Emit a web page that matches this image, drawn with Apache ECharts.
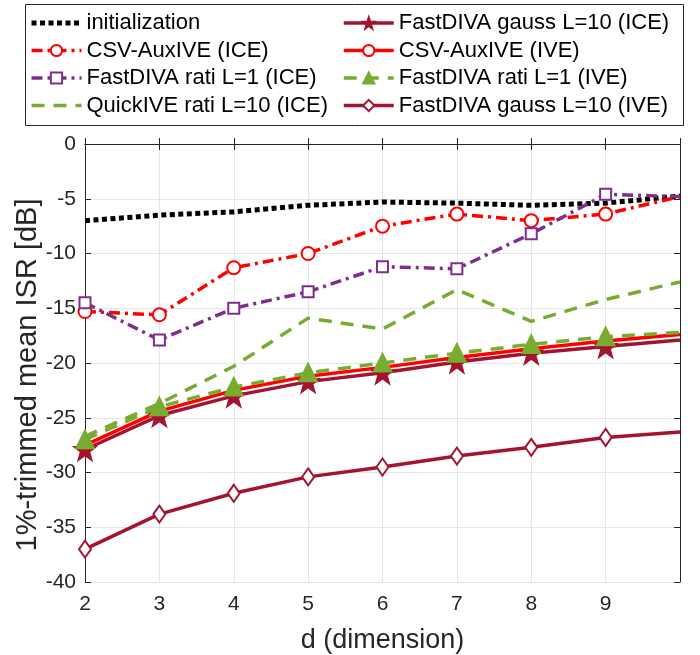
<!DOCTYPE html>
<html>
<head>
<meta charset="utf-8">
<script src="https://cdn.jsdelivr.net/npm/echarts@6/dist/echarts.min.js"></script>
<style>
  html, body { margin: 0; padding: 0; background: #fff; }
  #main { width: 700px; height: 655px; }
</style>
</head>
<body>
<div id="main"></div>
<script>
// d (dimension)
var dims = [2, 3, 4, 5, 6, 7, 8, 9, 10];

var initialization = [-7.0, -6.5, -6.2, -5.6, -5.3, -5.4, -5.6, -5.4, -4.75];
var csvIce        = [-15.3, -15.6, -11.3, -10.0, -7.5, -6.4, -7.0, -6.4, -4.8];
var ratiL1Ice     = [-14.5, -17.9, -15.0, -13.5, -11.2, -11.4, -8.2, -4.6, -4.8];
var quickL10Ice   = [-26.7, -23.7, -20.3, -15.9, -16.9, -13.3, -16.2, -14.2, -12.6];
var gaussL10Ice   = [-27.9, -24.8, -23.0, -21.7, -20.9, -19.9, -19.1, -18.5, -17.9];
var csvIve        = [-27.5, -24.4, -22.5, -21.2, -20.4, -19.5, -18.7, -18.0, -17.4];
var ratiL1Ive     = [-27.0, -24.0, -22.2, -20.9, -20.0, -19.1, -18.3, -17.6, -17.2];
var gaussL10Ive   = [-37.0, -33.8, -31.9, -30.4, -29.5, -28.5, -27.7, -26.8, -26.3];

var names = [
    'initialization',
    'CSV-AuxIVE (ICE)',
    'FastDIVA rati L=1 (ICE)',
    'QuickIVE rati L=10 (ICE)',
    'FastDIVA gauss L=10 (ICE)',
    'CSV-AuxIVE (IVE)',
    'FastDIVA rati L=1 (IVE)',
    'FastDIVA gauss L=10 (IVE)'
];
var noMarker = ['initialization', 'QuickIVE rati L=10 (ICE)'];

var starPath = 'path://M0,-10L2.35,-3.24L9.51,-3.09L3.8,1.24L5.88,8.09L0,4L-5.88,8.09L-3.8,1.24L-9.51,-3.09L-2.35,-3.24Z';

function pairs(ys) {
    return ys.map(function (y, i) { return [dims[i], y]; });
}

// no marker on the last point (x = 10, the axis edge)
function sized(s) {
    return function (val, params) {
        return params.dataIndex === dims.length - 1 ? 0 : s;
    };
}

function line(name, ys, color, dash, width, symbol, size, z) {
    return {
        name: name,
        type: 'line',
        data: pairs(ys),
        symbol: symbol,
        symbolSize: symbol === 'none' ? 0 : sized(size),
        showAllSymbol: true,
        clip: false,
        z: z,
        lineStyle: { color: color, width: width, type: dash, cap: 'butt' },
        itemStyle: { color: color, borderColor: color, borderWidth: 3 },
        emphasis: { disabled: true },
        animation: false
    };
}

function legendItems(list) {
    return list.map(function (n) {
        return noMarker.indexOf(n) >= 0 ? { name: n, itemStyle: { opacity: 0 } } : { name: n };
    });
}

var chart = echarts.init(document.getElementById('main'));

var series = [
    line(names[0], initialization, '#000000', [5, 3.5], 5, 'none', 0, 2),
    line(names[1], csvIce, '#ff0000', [11, 5, 3, 5], 3.5, 'emptyCircle', 13, 3),
    line(names[2], ratiL1Ice, '#7e2f8e', [11, 5, 3, 5], 3.5, 'emptyRect', 11, 3),
    line(names[3], quickL10Ice, '#77ac30', [13, 9], 3.5, 'none', 0, 2),
    line(names[4], gaussL10Ice, '#a2142f', 'solid', 3.5, starPath, 18, 3),
    line(names[5], csvIve, '#ff0000', 'solid', 3.5, 'emptyCircle', 9, 4),
    line(names[6], ratiL1Ive, '#77ac30', [13, 9], 3.5, 'triangle', 16, 5),
    line(names[7], gaussL10Ive, '#a2142f', 'solid', 3.5, 'emptyDiamond', [12, 17], 3)
];

var legendText = { fontFamily: 'Liberation Sans, Arial, sans-serif', fontSize: 22, color: '#000', lineHeight: 22 };

var option = {
    backgroundColor: '#ffffff',
    animation: false,
    textStyle: { fontFamily: 'Liberation Sans, Arial, sans-serif' },
    grid: { left: 85, right: 20, top: 144, bottom: 73, containLabel: false, outerBoundsMode: 'none' },
    graphic: [{
        type: 'rect',
        shape: { x: 25.5, y: 4.5, width: 658, height: 121 },
        style: { fill: '#fff', stroke: '#262626', lineWidth: 1 },
        z: 0
    }],
    legend: [{
        data: legendItems(names.slice(0, 4)),
        orient: 'vertical',
        left: 29,
        top: 12,
        padding: 0,
        itemWidth: 50,
        itemHeight: 14,
        itemGap: 5.5,
        lineStyle: { width: 'inherit' },
        textStyle: legendText,
        selectedMode: false
    }, {
        data: legendItems(names.slice(4)),
        orient: 'vertical',
        left: 342,
        top: 12,
        padding: 0,
        itemWidth: 50,
        itemHeight: 14,
        itemGap: 5.5,
        lineStyle: { width: 'inherit' },
        textStyle: legendText,
        selectedMode: false
    }],
    xAxis: [{
        type: 'value',
        min: 2,
        max: 10,
        interval: 1,
        name: 'd (dimension)',
        nameLocation: 'middle',
        nameGap: 45,
        nameMoveOverlap: false,
        nameTextStyle: { fontSize: 27, color: '#262626' },
        axisLine: { show: true, lineStyle: { color: '#262626', width: 1 } },
        axisTick: { show: true, inside: true, length: 6, lineStyle: { color: '#262626' } },
        axisLabel: {
            fontSize: 21, color: '#262626', margin: 12,
            formatter: function (v) { return v === 10 ? '' : String(v); }
        },
        splitLine: { show: true, lineStyle: { color: '#e6e6e6', width: 1 } }
    }, {
        type: 'value',
        position: 'top',
        min: 2,
        max: 10,
        interval: 1,
        axisLine: { show: true, onZero: false, lineStyle: { color: '#262626', width: 1 } },
        axisTick: { show: true, inside: true, length: 6, lineStyle: { color: '#262626' } },
        axisLabel: { show: false },
        splitLine: { show: false }
    }],
    yAxis: [{
        type: 'value',
        min: -40,
        max: 0,
        interval: 5,
        name: '1%-trimmed mean ISR [dB]',
        nameLocation: 'middle',
        nameGap: 43,
        nameMoveOverlap: false,
        nameTextStyle: { fontSize: 29, color: '#262626', padding: [0, 24, 0, 0] },
        axisLine: { show: true, lineStyle: { color: '#262626', width: 1 } },
        axisTick: { show: true, inside: true, length: 6, lineStyle: { color: '#262626' } },
        axisLabel: { fontSize: 21, color: '#262626', margin: 9 },
        splitLine: { show: true, lineStyle: { color: '#e6e6e6', width: 1 } }
    }, {
        type: 'value',
        position: 'right',
        min: -40,
        max: 0,
        interval: 5,
        axisLine: { show: true, onZero: false, lineStyle: { color: '#262626', width: 1 } },
        axisTick: { show: true, inside: true, length: 6, lineStyle: { color: '#262626' } },
        axisLabel: { show: false },
        splitLine: { show: false }
    }],
    series: series
};

chart.setOption(option);
</script>
</body>
</html>
